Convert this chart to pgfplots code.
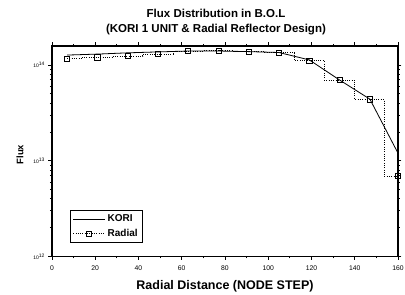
\documentclass[border=0pt]{standalone}
\usepackage{pgfplots}
\pgfplotsset{compat=1.18}
\usepackage{fontspec}
\setmainfont{Liberation Sans}
\begin{document}
\begin{tikzpicture}[x=1pt,y=1pt]
\begin{axis}[
  at={(0pt,0pt)}, anchor=south west,
  scale only axis, width=346pt, height=210.5pt,
  xmin=0, xmax=160, ymode=log, ymin=1e12, ymax=1.58e14,
  xtick={0,20,...,160}, minor x tick num=1,
  ytick={1e12,1e13,1e14},
  yticklabels={10\textsuperscript{12},10\textsuperscript{13},10\textsuperscript{14}},
  tick align=outside,
  major tick length=3.5pt, minor tick length=2pt,
  every tick/.style={black, line width=0.8pt},
  axis line style={line width=1.3pt},
  /pgf/number format/assume math mode=true,
  xticklabel style={font=\fontsize{6.8}{8}\selectfont, yshift=-2.5pt},
  yticklabel style={font=\fontsize{5}{6}\selectfont},
  clip=false,
  legend style={at={(0.052,0.064)}, anchor=south west, draw=black, line width=0.7pt,
    font=\fontsize{10}{12}\bfseries\selectfont, row sep=2pt, inner sep=2.5pt},
  legend cell align=left,
  legend image code/.code={\draw[mark repeat=2,mark phase=2,#1] plot coordinates {(0pt,0pt) (16pt,0pt) (32pt,0pt)};},
]
\addplot[black, line width=0.8pt, mark=none] coordinates {
  (7,1.27e14) (21,1.30e14) (35,1.34e14) (49,1.37e14) (63,1.40e14) (77,1.40e14)
  (91,1.38e14) (105,1.35e14) (119,1.13e14) (133,6.97e13) (147,4.4e13) (160,1.2e13)
};
\addlegendentry{KORI}
\addplot[black, line width=0.7pt, dash pattern=on 1pt off 1.3pt, const plot mark mid,
  mark=square, mark size=2.6pt, mark options={solid, fill=white, line width=0.8pt}] coordinates {
  (7,1.16e14) (21,1.20e14) (35,1.24e14) (49,1.30e14) (63,1.40e14) (77,1.41e14)
  (91,1.38e14) (105,1.35e14) (119,1.11e14) (133,6.97e13) (147,4.37e13) (160,6.9e12)
};
\addlegendentry{Radial}
\end{axis}
\node[anchor=base, font=\fontsize{11.5}{13}\bfseries\selectfont] at (164,238.5) {Flux Distribution in B.O.L};
\node[anchor=base, font=\fontsize{11.5}{13}\bfseries\selectfont] at (164,223.5) {(KORI 1 UNIT \& Radial Reflector Design)};
\node[anchor=base, font=\fontsize{12.5}{14}\bfseries\selectfont] at (173,-32.5) {Radial Distance (NODE STEP)};
\node[rotate=90, font=\fontsize{9.5}{11}\bfseries\selectfont] at (-32,102) {Flux};
\pgfresetboundingbox
\path[use as bounding box] (-52,-38.5) rectangle (353,256.5);
\end{tikzpicture}
\end{document}
